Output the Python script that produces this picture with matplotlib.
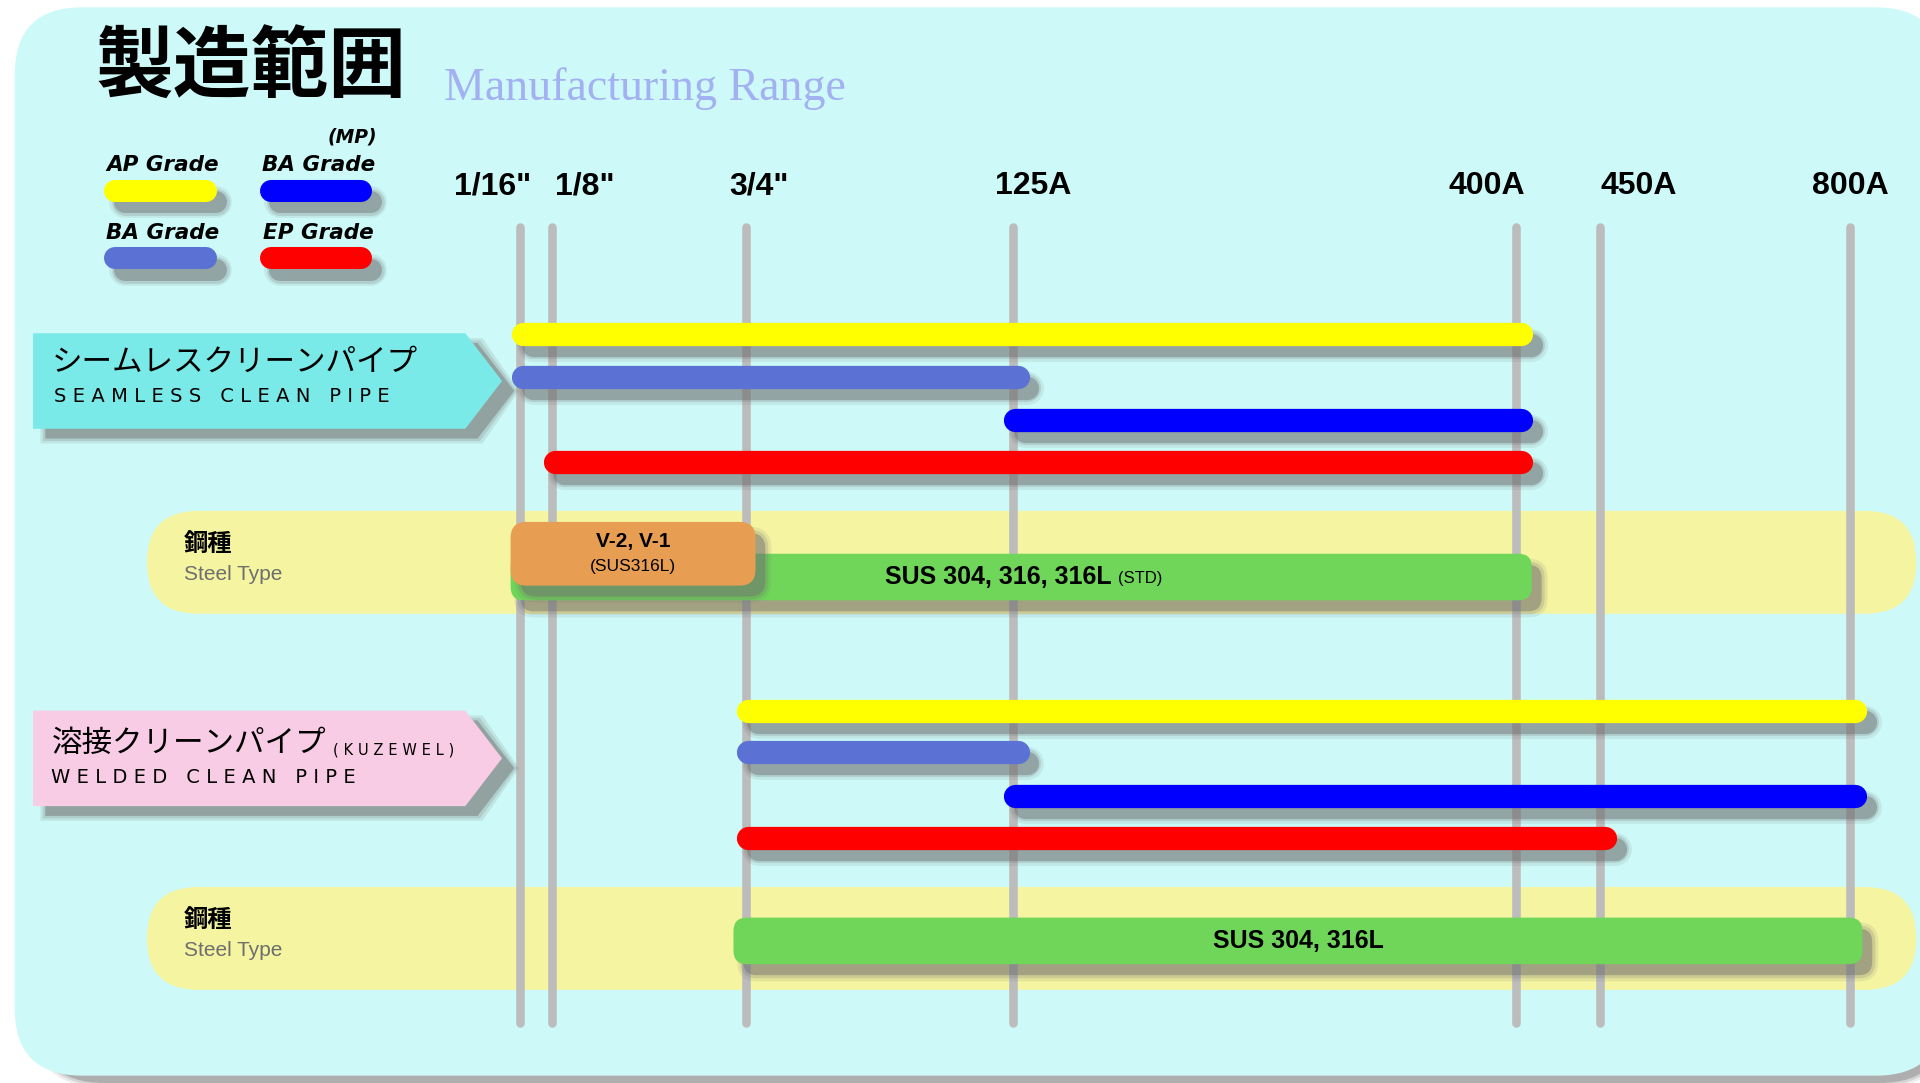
import numpy as np
import matplotlib
matplotlib.use('Agg')
import matplotlib.pyplot as plt
from matplotlib.patches import FancyBboxPatch, Polygon

# Data
sizes = ['1/16"', '1/8"', '3/4"', '125A', '400A', '450A', '800A']

grade_names = ['AP Grade', 'BA Grade', 'BA Grade', 'EP Grade']
grade_colors = ['#ffff00', '#5b72d4', '#0000ff', '#ff0000']

seamless_start = ['1/16"', '1/16"', '125A', '1/8"']
seamless_end = ['400A', '125A', '400A', '400A']

welded_start = ['3/4"', '3/4"', '125A', '3/4"']
welded_end = ['800A', '125A', '800A', '450A']

seamless_steel = ['SUS 304, 316, 316L', '(STD)', '1/16"', '400A']
seamless_special = ['V-2, V-1', '(SUS316L)', '1/16"', '3/4"']
welded_steel = ['SUS 304, 316L', '', '3/4"', '800A']

# Layout (reference pixel units, 1568 x 884)
col_x = [425, 451, 609, 827, 1238, 1307, 1511]
label_x = [402, 478, 620, 844, 1214, 1338, 1511]
seamless_y = [273, 308, 343, 377]
welded_y = [580, 614, 650, 684]
U = 1920 / 1568 * 72 / 100   # points per reference pixel
BAR_H = 19

JP = ['Noto Sans CJK JP', 'DejaVu Sans']
CYAN_BG = '#cdfaf8'
SHADOW = '#6f6f6f'

fig = plt.figure(figsize=(19.2, 10.83), dpi=100)
fig.patch.set_facecolor('white')
ax = fig.add_axes([0, 0, 1, 1])
ax.set_xlim(0, 1568)
ax.set_ylim(884, 0)
ax.axis('off')

xpos = dict(zip(sizes, col_x))


def spaced(s, gap='\u2004'):
  return gap.join(list(s))


def rbox(x, y, w, h, r, color, z, shadow=False, dx=8, dy=9):
  if shadow:
    for grow, a in [(5, 0.12), (2.5, 0.2), (0, 0.45)]:
      ax.add_patch(FancyBboxPatch((x + dx - grow, y + dy - grow), w + 2*grow, h + 2*grow,
                                  boxstyle='round,pad=0,rounding_size=%f' % (r + grow),
                                  fc=SHADOW, ec='none', alpha=a, zorder=z - 0.5))
  ax.add_patch(FancyBboxPatch((x, y), w, h, boxstyle='round,pad=0,rounding_size=%f' % r,
                              fc=color, ec='none', zorder=z))


def bar(x0, x1, y, color, h=BAR_H, z=5):
  for grow, a in [(8, 0.12), (4, 0.2), (0, 0.45)]:
    ax.plot([x0 + 8, x1 + 8], [y + 9, y + 9], color=SHADOW, lw=(h + grow)*U,
            alpha=a, solid_capstyle='round', zorder=z - 0.5)
  ax.plot([x0, x1], [y, y], color=color, lw=h*U, solid_capstyle='round', zorder=z)


def arrow_label(y0, y1, color):
  pts = np.array([[27, y0], [380, y0], [410, (y0 + y1)/2], [380, y1], [27, y1]])
  for grow, a in [(4, 0.15), (2, 0.2), (0, 0.45)]:
    sh = pts + np.array([10, 8])
    sh = sh + np.array([[-grow, -grow], [grow, -grow], [grow, 0], [grow, grow], [-grow, grow]])
    ax.add_patch(Polygon(sh, closed=True, fc=SHADOW, ec='none', alpha=a, zorder=2.5))
  ax.add_patch(Polygon(pts, closed=True, fc=color, ec='none', zorder=3))


# Background panel
for grow, a in [(4, 0.15), (2, 0.25), (0, 0.5)]:
  ax.add_patch(FancyBboxPatch((30 - grow, 20 - grow), 1560 + 2*grow, 864 + 2*grow,
                              boxstyle='round,pad=0,rounding_size=%f' % (55 + grow),
                              fc='#8a8a8a', ec='none', alpha=a, zorder=0))
ax.add_patch(FancyBboxPatch((12, 6), 1575, 872, boxstyle='round,pad=0,rounding_size=55',
                            fc=CYAN_BG, ec='none', zorder=0.2))

# Titles
ax.text(78, 56, '製造範囲', fontsize=56, family=JP, weight='bold', va='center', ha='left', zorder=6)
ax.text(363, 72, 'Manufacturing Range', fontsize=33, family='Liberation Serif',
        color='#a3b1f2', va='center', ha='left', zorder=6)

# Legend
leg_cx = [131, 258, 131, 258]
leg_ty = [135, 135, 190, 190]
for name, color, cx, ty in zip(grade_names, [grade_colors[0], grade_colors[2], grade_colors[1], grade_colors[3]],
                               leg_cx, leg_ty):
  ax.text(cx + 2, ty, name, fontsize=15.5, family='DejaVu Sans', weight='bold', style='italic',
          ha='center', va='center', zorder=6)
  bar(cx - 37, cx + 37, ty + 21, color, h=18)
ax.text(288, 112, '(MP)', fontsize=13.5, family='DejaVu Sans', weight='bold', style='italic',
        ha='center', va='center', zorder=6)

# Size labels and guide lines
for s, lx, cx in zip(sizes, label_x, col_x):
  ax.text(lx, 152, s, fontsize=23, family='Liberation Sans', weight='bold',
          ha='center', va='center', zorder=6)
  ax.plot([cx, cx], [185, 835], color='#bcbcbc', lw=7*U, solid_capstyle='round', zorder=2)

# Steel type bands
for yc in [459, 766]:
  ax.add_patch(FancyBboxPatch((120, yc - 42), 1445, 84, boxstyle='round,pad=0,rounding_size=42',
                              fc='#f5f4a0', ec='none', zorder=1))
  ax.text(150, yc - 15, '鋼種', fontsize=17.5, family=JP, weight='bold', ha='left', va='center', zorder=6)
  ax.text(150, yc + 10, 'Steel Type', fontsize=15, family='Liberation Sans', color='#6e6e6e',
          ha='left', va='center', zorder=6)

# Category labels
arrow_label(272, 350, '#7aeae8')
ax.text(42, 296, 'シームレスクリーンパイプ', fontsize=22, family=JP, ha='left', va='center', zorder=6)
ax.text(44, 324, spaced('SEAMLESS CLEAN PIPE'), fontsize=14, family='DejaVu Sans',
        ha='left', va='center', zorder=6)

arrow_label(580, 658, '#f9cce6')
ax.text(42, 607, '溶接クリーンパイプ', fontsize=22, family=JP, ha='left', va='center', zorder=6)
ax.text(272, 612, spaced('(KUZEWEL)'), fontsize=10.5, family='DejaVu Sans',
        ha='left', va='center', zorder=6)
ax.text(42, 635, spaced('WELDED CLEAN PIPE'), fontsize=14, family='DejaVu Sans',
        ha='left', va='center', zorder=6)

# Grade bars
for s0, s1, y, c in zip(seamless_start, seamless_end, seamless_y, grade_colors):
  bar(xpos[s0] + 2, xpos[s1] + 4, y, c)
for s0, s1, y, c in zip(welded_start, welded_end, welded_y, grade_colors):
  bar(xpos[s0] + 2, xpos[s1] + 4, y, c)

# Steel type bars
main, sub, s0, s1 = seamless_steel
x0, x1 = xpos[s0] - 8, xpos[s1] + 13
rbox(x0, 452, x1 - x0, 38, 11, '#70d65a', 4, shadow=True)
xc = (x0 + x1) / 2
ax.text(xc + 74, 471, main, fontsize=18, family='Liberation Sans', weight='bold',
        ha='right', va='center', zorder=6)
ax.text(xc + 79, 472, sub, fontsize=12, family='Liberation Sans', ha='left', va='center', zorder=6)

main, sub, s0, s1 = seamless_special
x0, x1 = xpos[s0] - 8, xpos[s1] + 8
rbox(x0, 426, x1 - x0, 52, 13, '#e89e52', 4.6, shadow=True)
xc = (x0 + x1) / 2
ax.text(xc, 442, main, fontsize=15, family='Liberation Sans', weight='bold',
        ha='center', va='center', zorder=6)
ax.text(xc, 462, sub, fontsize=12.5, family='Liberation Sans', ha='center', va='center', zorder=6)

main, sub, s0, s1 = welded_steel
x0, x1 = xpos[s0] - 10, xpos[s1] + 10
rbox(x0, 749, x1 - x0, 38, 11, '#70d65a', 4, shadow=True)
ax.text((x0 + x1) / 2, 768, main, fontsize=18, family='Liberation Sans', weight='bold',
        ha='center', va='center', zorder=6)

fig.savefig('out.png', dpi=100, facecolor='white')
